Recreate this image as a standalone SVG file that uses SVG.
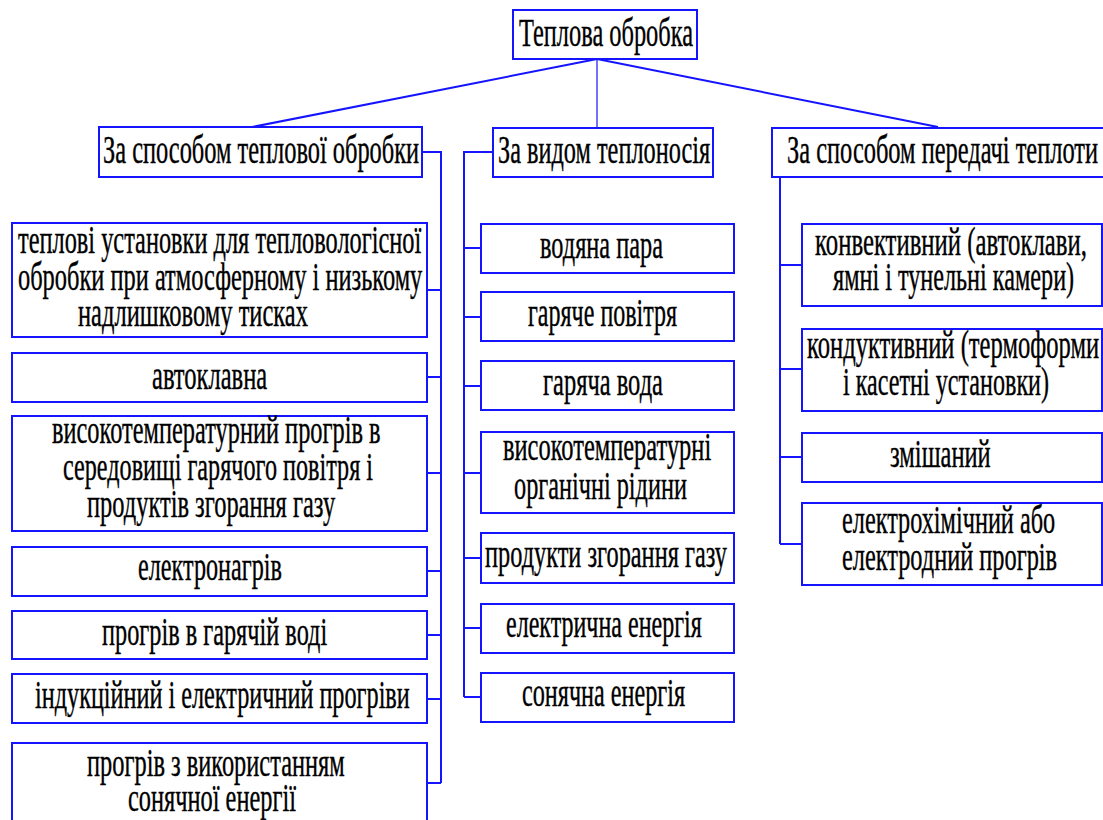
<svg xmlns="http://www.w3.org/2000/svg" width="1103" height="820" viewBox="0 0 1103 820">
<style>
.b{fill:#fff;stroke:#1414ff;stroke-width:2}
text{font-family:'Liberation Serif','Times New Roman',serif;font-size:40px;fill:#000;stroke:#000;stroke-width:0.4}
.c{fill:none;stroke:#1414ff;stroke-width:2}
.c1{fill:none;stroke:#1414ff;stroke-width:1.2}
</style>
<rect width="1103" height="820" fill="#fff"/>
<g id="connectors">
<path class="c" d="M597,59 L252,127"/>
<path class="c" d="M597,59 L938,127"/>
<path class="c1" d="M597,59 V127"/>
<path class="c" d="M422,152 H441 V783"/>
<path class="c" d="M427,290 H441 M427,377 H441 M427,473 H441 M427,571 H441 M427,635 H441 M425,699 H441 M427,783 H441"/>
<path class="c" d="M493,152 H464 V697"/>
<path class="c" d="M464,248 H481 M464,317 H481 M464,386 H481 M464,473 H481 M464,558 H481 M464,628 H481 M464,697 H481"/>
<path class="c" d="M780,177 V544"/>
<path class="c" d="M780,265 H802 M780,369 H802 M780,457 H802 M780,544 H802"/>
</g>
<g id="root"><rect class="b" x="513" y="10" width="184" height="49"/><text style="font-size:41px" transform="translate(519,46) scale(0.598,1)" textLength="291" lengthAdjust="spacingAndGlyphs">Теплова обробка</text></g>
<g id="catA"><rect class="b" x="99" y="127" width="323" height="50"/><text transform="translate(103,163) scale(0.626,1)" textLength="505" lengthAdjust="spacingAndGlyphs">За способом теплової обробки</text></g>
<g id="catB"><rect class="b" x="493" y="128" width="220" height="49"/><text transform="translate(498,163) scale(0.622,1)" textLength="341" lengthAdjust="spacingAndGlyphs">За видом теплоносія</text></g>
<g id="catC"><rect class="b" x="772" y="128" width="334" height="49"/><text transform="translate(787,163) scale(0.616,1)" textLength="505" lengthAdjust="spacingAndGlyphs">За способом передачі теплоти</text></g>

<g id="a1"><rect class="b" x="12" y="223" width="415" height="114"/>
<text transform="translate(18,253) scale(0.612,1)" textLength="659" lengthAdjust="spacingAndGlyphs">теплові установки для тепловологісної</text>
<text transform="translate(18,290) scale(0.665,1)" textLength="608" lengthAdjust="spacingAndGlyphs">обробки при атмосферному і низькому</text>
<text transform="translate(78,326) scale(0.646,1)" textLength="356" lengthAdjust="spacingAndGlyphs">надлишковому тисках</text></g>
<g id="a2"><rect class="b" x="12" y="353" width="415" height="49"/><text transform="translate(152,389) scale(0.6,1)" textLength="192" lengthAdjust="spacingAndGlyphs">автоклавна</text></g>
<g id="a3"><rect class="b" x="12" y="416" width="415" height="115"/>
<text transform="translate(52,443) scale(0.62,1)" textLength="530" lengthAdjust="spacingAndGlyphs">високотемпературний прогрів в</text>
<text transform="translate(63,480) scale(0.614,1)" textLength="505" lengthAdjust="spacingAndGlyphs">середовищі гарячого повітря і</text>
<text transform="translate(87,517) scale(0.598,1)" textLength="415" lengthAdjust="spacingAndGlyphs">продуктів згорання газу</text></g>
<g id="a4"><rect class="b" x="12" y="547" width="415" height="49"/><text transform="translate(138,580) scale(0.595,1)" textLength="242" lengthAdjust="spacingAndGlyphs">електронагрів</text></g>
<g id="a5"><rect class="b" x="12" y="611" width="415" height="48"/><text transform="translate(102,645) scale(0.607,1)" textLength="371" lengthAdjust="spacingAndGlyphs">прогрів в гарячій воді</text></g>
<g id="a6"><rect class="b" x="12" y="674" width="415" height="49"/><text transform="translate(35,708) scale(0.632,1)" textLength="593" lengthAdjust="spacingAndGlyphs">індукційний і електричний прогріви</text></g>
<g id="a7"><rect class="b" x="12" y="743" width="415" height="90"/>
<text transform="translate(87,776) scale(0.621,1)" textLength="415" lengthAdjust="spacingAndGlyphs">прогрів з використанням</text>
<text transform="translate(128,811) scale(0.613,1)" textLength="274" lengthAdjust="spacingAndGlyphs">сонячної енергії</text></g>

<g id="b1"><rect class="b" x="481" y="224" width="253" height="49"/><text transform="translate(540,258) scale(0.609,1)" textLength="202" lengthAdjust="spacingAndGlyphs">водяна пара</text></g>
<g id="b2"><rect class="b" x="481" y="292" width="253" height="49"/><text transform="translate(528,326) scale(0.592,1)" textLength="252" lengthAdjust="spacingAndGlyphs">гаряче повітря</text></g>
<g id="b3"><rect class="b" x="481" y="361" width="253" height="49"/><text transform="translate(543,395) scale(0.594,1)" textLength="202" lengthAdjust="spacingAndGlyphs">гаряча вода</text></g>
<g id="b4"><rect class="b" x="481" y="432" width="253" height="81"/>
<text transform="translate(503,460) scale(0.616,1)" textLength="338" lengthAdjust="spacingAndGlyphs">високотемпературні</text>
<text transform="translate(514,499) scale(0.631,1)" textLength="274" lengthAdjust="spacingAndGlyphs">органічні рідини</text></g>
<g id="b5"><rect class="b" x="481" y="533" width="253" height="50"/><text transform="translate(485,567) scale(0.599,1)" textLength="404" lengthAdjust="spacingAndGlyphs">продукти згорання газу</text></g>
<g id="b6"><rect class="b" x="481" y="604" width="253" height="49"/><text transform="translate(506,637) scale(0.597,1)" textLength="328" lengthAdjust="spacingAndGlyphs">електрична енергія</text></g>
<g id="b7"><rect class="b" x="481" y="673" width="253" height="49"/><text transform="translate(522,706) scale(0.602,1)" textLength="271" lengthAdjust="spacingAndGlyphs">сонячна енергія</text></g>

<g id="c1"><rect class="b" x="802" y="224" width="300" height="82"/>
<text transform="translate(815,255) scale(0.652,1)" textLength="417" lengthAdjust="spacingAndGlyphs">конвективний (автоклави,</text>
<text transform="translate(833,290) scale(0.628,1)" textLength="384" lengthAdjust="spacingAndGlyphs">ямні і тунельні камери)</text></g>
<g id="c2"><rect class="b" x="802" y="329" width="300" height="82"/>
<text transform="translate(807,358) scale(0.655,1)" textLength="446" lengthAdjust="spacingAndGlyphs">кондуктивний (термоформи</text>
<text transform="translate(843,395) scale(0.599,1)" textLength="344" lengthAdjust="spacingAndGlyphs">і касетні установки)</text></g>
<g id="c3"><rect class="b" x="802" y="433" width="300" height="49"/><text transform="translate(890,467) scale(0.69,1)" textLength="146" lengthAdjust="spacingAndGlyphs">змішаний</text></g>
<g id="c4"><rect class="b" x="802" y="503" width="300" height="82"/>
<text transform="translate(842,533) scale(0.627,1)" textLength="340" lengthAdjust="spacingAndGlyphs">електрохімічний або</text>
<text transform="translate(842,570) scale(0.618,1)" textLength="348" lengthAdjust="spacingAndGlyphs">електродний прогрів</text></g>
</svg>
